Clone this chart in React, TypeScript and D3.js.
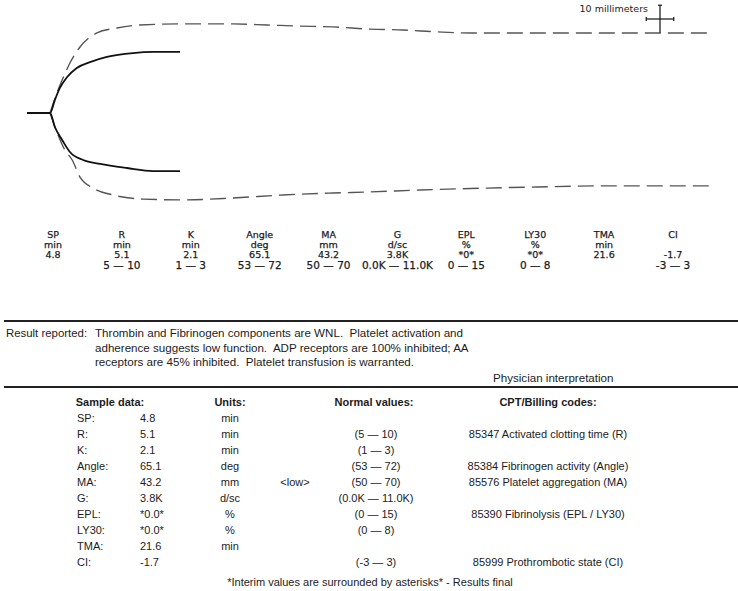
import React from 'react';
import * as d3 from 'd3';

// tracing: time (min) vs amplitude (mm, signed from the baseline)
const tracingUpper = [
  { t: 0, mm: 0 }, { t: 5.04, mm: 0 }, { t: 6.1, mm: 4.7 }, { t: 7.2, mm: 9.1 },
  { t: 8.8, mm: 13.1 }, { t: 10.9, mm: 16.4 }, { t: 13.8, mm: 18.5 }, { t: 17.5, mm: 20.4 },
  { t: 23.2, mm: 21.8 }, { t: 27.6, mm: 22.2 }, { t: 33.5, mm: 22.2 },
];
const tracingLower = [
  { t: 0, mm: 0 }, { t: 5.04, mm: 0 }, { t: 6.1, mm: -5.1 }, { t: 7.7, mm: -9.8 },
  { t: 9.4, mm: -14.2 }, { t: 12.3, mm: -17.1 }, { t: 16.0, mm: -18.5 }, { t: 21.9, mm: -20.0 },
  { t: 27.6, mm: -21.1 }, { t: 33.5, mm: -21.1 },
];
const normalUpper = [
  { t: 5.04, mm: 0 }, { t: 6.8, mm: 8.4 }, { t: 8.1, mm: 13.5 }, { t: 9.4, mm: 18.2 },
  { t: 11.6, mm: 24 }, { t: 15.3, mm: 29.1 }, { t: 19.7, mm: 30.9 }, { t: 24.7, mm: 32 },
  { t: 34.2, mm: 32.4 }, { t: 45.1, mm: 32.4 }, { t: 52.6, mm: 32 }, { t: 59.8, mm: 31.6 },
  { t: 67, mm: 31.3 }, { t: 75.1, mm: 30.5 }, { t: 82.3, mm: 30.2 }, { t: 89.8, mm: 29.5 },
  { t: 97, mm: 29.1 }, { t: 108, mm: 29.1 }, { t: 150, mm: 29.1 },
];
const normalLower = [
  { t: 5.04, mm: 0 }, { t: 6.8, mm: -8 }, { t: 8.3, mm: -13.5 }, { t: 9.9, mm: -17.1 },
  { t: 11.6, mm: -23.3 }, { t: 14.5, mm: -27.3 }, { t: 18.8, mm: -29.8 }, { t: 25.4, mm: -31.3 },
  { t: 34.2, mm: -31.6 }, { t: 45.1, mm: -30.9 }, { t: 56.1, mm: -29.8 }, { t: 67, mm: -29.1 },
  { t: 75.1, mm: -28.7 }, { t: 86.1, mm: -28 }, { t: 100.7, mm: -27.3 }, { t: 111.7, mm: -26.9 },
  { t: 126.1, mm: -26.5 }, { t: 149.6, mm: -26.5 },
];

const paramNames = ['SP', 'R', 'K', 'Angle', 'MA', 'G', 'EPL', 'LY30', 'TMA', 'CI'];
const paramUnits = ['min', 'min', 'min', 'deg', 'mm', 'd/sc', '%', '%', 'min', ''];
const paramValues = ['4.8', '5.1', '2.1', '65.1', '43.2', '3.8K', '*0*', '*0*', '21.6', '-1.7'];
const paramRanges = ['', '5 — 10', '1 — 3', '53 — 72', '50 — 70', '0.0K — 11.0K', '0 — 15', '0 — 8', '', '-3 — 3'];

const resultLines = [
  'Thrombin and Fibrinogen components are WNL.  Platelet activation and',
  'adherence suggests low function.  ADP receptors are 100% inhibited; AA',
  'receptors are 45% inhibited.  Platelet transfusion is warranted.',
];

const sampleLabels = ['SP:', 'R:', 'K:', 'Angle:', 'MA:', 'G:', 'EPL:', 'LY30:', 'TMA:', 'CI:'];
const sampleValues = ['4.8', '5.1', '2.1', '65.1', '43.2', '3.8K', '*0.0*', '*0.0*', '21.6', '-1.7'];
const sampleUnits = ['min', 'min', 'min', 'deg', 'mm', 'd/sc', '%', '%', 'min', ''];
const sampleFlags = ['', '', '', '', '<low>', '', '', '', '', ''];
const normalValues = ['', '(5 — 10)', '(1 — 3)', '(53 — 72)', '(50 — 70)', '(0.0K — 11.0K)', '(0 — 15)', '(0 — 8)', '', '(-3 — 3)'];
const billingCodes = [
  '', '85347 Activated clotting time (R)', '', '85384 Fibrinogen activity (Angle)',
  '85576 Platelet aggregation (MA)', '', '85390 Fibrinolysis (EPL / LY30)', '', '',
  '85999 Prothrombotic state (CI)',
];

const W = 738;
const H = 591;

const App = () => {
  const x = d3.scaleLinear().domain([0, 150]).range([27, 712]);
  const y = d3.scaleLinear().domain([-40, 40]).range([113 + 110, 113 - 110]);
  const line = d3.line<{ t: number; mm: number }>()
    .x(d => x(d.t))
    .y(d => y(d.mm))
    .curve(d3.curveMonotoneX);

  const colX = d3.scalePoint<string>().domain(paramNames).range([53, 673]);
  const rowY = d3.scalePoint<string>().domain(sampleLabels).range([422, 566]);

  const verdana = '"DejaVu Sans", Verdana, sans-serif';
  const arial = '"Liberation Sans", Arial, sans-serif';
  const ink = '#1c1c1c';

  // scale bar: 10 mm in both directions
  const barX = 660;
  const barY = 19;
  const mmPx = y(0) - y(10);

  return (
    <div style={{ position: 'absolute', left: 0, top: 0 }}>
      <svg width={W} height={H} style={{ display: 'block', background: '#fff' }}>
        {/* normal envelope */}
        <g fill="none" stroke="#555" strokeWidth={1.4} strokeDasharray="16,7">
          <path d={line(normalUpper) || ''} />
          <path d={line(normalLower) || ''} />
        </g>
        {/* patient tracing */}
        <g fill="none" stroke="#111" strokeWidth={1.8}>
          <path d={line(tracingUpper) || ''} />
          <path d={line(tracingLower) || ''} />
        </g>

        {/* scale bar */}
        <text x={648} y={12} textAnchor="end" fontFamily={verdana} fontSize={9.5} fill={ink}>10 millimeters</text>
        <g stroke="#222" strokeWidth={1.3}>
          <line x1={barX} x2={barX} y1={barY - mmPx / 2} y2={barY + mmPx / 2} />
          <line x1={barX - 2} x2={barX + 2} y1={barY - mmPx / 2} y2={barY - mmPx / 2} />
          <line x1={barX - mmPx / 2} x2={barX + mmPx / 2} y1={barY} y2={barY} />
          <line x1={barX - mmPx / 2} x2={barX - mmPx / 2} y1={barY - 2} y2={barY + 2} />
          <line x1={barX + mmPx / 2} x2={barX + mmPx / 2} y1={barY - 2} y2={barY + 2} />
        </g>

        {/* parameter row */}
        <g fontFamily={verdana} fontSize={9.5} fill={ink} stroke={ink} strokeWidth={0.25} textAnchor="middle">
          {paramNames.map((n, i) => (
            <g key={n} transform={`translate(${colX(n)},0)`}>
              <text y={238}>{n}</text>
              <text y={248}>{paramUnits[i]}</text>
              <text y={258}>{paramValues[i]}</text>
              <text y={269} fontSize={10.5}>{paramRanges[i]}</text>
            </g>
          ))}
        </g>

        {/* separators */}
        <line x1={4} x2={W} y1={321} y2={321} stroke="#222" strokeWidth={2} />
        <line x1={4} x2={W} y1={387} y2={387} stroke="#222" strokeWidth={2} />

        {/* result text */}
        <g fontFamily={arial} fontSize={11.6} fill={ink}>
          <text x={6} y={337} fontSize={11.4}>Result reported:</text>
          {resultLines.map((l, i) => (
            <text key={i} x={95} y={337 + i * 14.5} style={{ whiteSpace: 'pre' }}>{l}</text>
          ))}
          <text x={493} y={382}>Physician interpretation</text>
        </g>

        {/* table */}
        <g fontFamily={arial} fontSize={11} fill={ink}>
          <g fontWeight="bold" textAnchor="middle">
            <text x={110} y={406}>Sample data:</text>
            <text x={230} y={406}>Units:</text>
            <text x={374} y={406}>Normal values:</text>
            <text x={548} y={406}>CPT/Billing codes:</text>
          </g>
          {sampleLabels.map((lab, i) => {
            const yy = rowY(lab) || 0;
            return (
              <g key={lab}>
                <text x={77} y={yy}>{lab}</text>
                <text x={140} y={yy}>{sampleValues[i]}</text>
                <text x={230} y={yy} textAnchor="middle">{sampleUnits[i]}</text>
                <text x={295} y={yy} textAnchor="middle">{sampleFlags[i]}</text>
                <text x={376} y={yy} textAnchor="middle">{normalValues[i]}</text>
                <text x={548} y={yy} textAnchor="middle">{billingCodes[i]}</text>
              </g>
            );
          })}
          <text x={370} y={586} textAnchor="middle">*Interim values are surrounded by asterisks* - Results final</text>
        </g>
      </svg>
    </div>
  );
};

export default App;
